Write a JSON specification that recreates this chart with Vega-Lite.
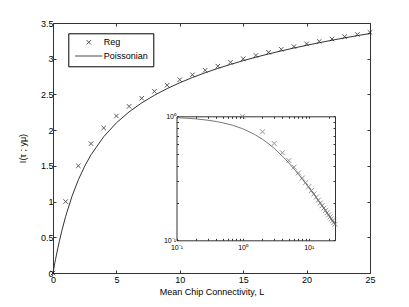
{
  "$schema": "https://vega.github.io/schema/vega-lite/v6.json",
  "width": 317,
  "height": 250,
  "autosize": {"type": "none"},
  "padding": {"left": 53, "top": 23, "right": 39, "bottom": 34},
  "background": "white",
  "config": {
    "font": "Liberation Sans",
    "view": {"stroke": null},
    "axis": {
      "grid": false,
      "labelFont": "Liberation Sans",
      "labelFontSize": 9,
      "labelColor": "#000",
      "titleFont": "Liberation Sans",
      "titleFontSize": 9,
      "titleFontWeight": "normal",
      "titleColor": "#000",
      "domainColor": "#333",
      "tickColor": "#333",
      "labelFlush": false,
      "labelOverlap": false
    }
  },
  "datasets": {
    "poi": [
      {"L": 0, "I": 0, "r": null},
      {"L": 0.1, "I": 0.09755, "r": 0.9755},
      {"L": 0.15, "I": 0.14455, "r": 0.9636},
      {"L": 0.2, "I": 0.1904, "r": 0.952},
      {"L": 0.3, "I": 0.27883, "r": 0.9294},
      {"L": 0.4, "I": 0.3631, "r": 0.9078},
      {"L": 0.5, "I": 0.44346, "r": 0.8869},
      {"L": 0.7, "I": 0.59335, "r": 0.8476},
      {"L": 1, "I": 0.79409, "r": 0.7941},
      {"L": 1.5, "I": 1.07572, "r": 0.7171},
      {"L": 2, "I": 1.30532, "r": 0.6527},
      {"L": 2.5, "I": 1.49545, "r": 0.5982},
      {"L": 3, "I": 1.65519, "r": 0.5517},
      {"L": 4, "I": 1.90867, "r": 0.4772},
      {"L": 5, "I": 2.1018, "r": 0.4204},
      {"L": 6, "I": 2.2559, "r": 0.376},
      {"L": 7, "I": 2.3819, "r": 0.3403},
      {"L": 8, "I": 2.4887, "r": 0.3111},
      {"L": 9, "I": 2.5815, "r": 0.2868},
      {"L": 10, "I": 2.6635, "r": 0.26635},
      {"L": 11, "I": 2.737, "r": 0.24882},
      {"L": 12, "I": 2.8036, "r": 0.23364},
      {"L": 13, "I": 2.8645, "r": 0.22035},
      {"L": 14, "I": 2.9207, "r": 0.20862},
      {"L": 15, "I": 2.9727, "r": 0.19818},
      {"L": 16, "I": 3.0212, "r": 0.18883},
      {"L": 17, "I": 3.0667, "r": 0.18039},
      {"L": 18, "I": 3.1094, "r": 0.17274},
      {"L": 19, "I": 3.1497, "r": 0.16578},
      {"L": 20, "I": 3.1879, "r": 0.15939},
      {"L": 21, "I": 3.2242, "r": 0.15353},
      {"L": 22, "I": 3.2587, "r": 0.14812},
      {"L": 23, "I": 3.2916, "r": 0.14311},
      {"L": 24, "I": 3.3231, "r": 0.13846},
      {"L": 25, "I": 3.3533, "r": 0.13413}
    ],
    "reg": [
      {"L": 0, "I": 0, "r": null},
      {"L": 1, "I": 1, "r": 1},
      {"L": 2, "I": 1.5, "r": 0.75},
      {"L": 3, "I": 1.8113, "r": 0.6038},
      {"L": 4, "I": 2.0306, "r": 0.5077},
      {"L": 5, "I": 2.1982, "r": 0.4396},
      {"L": 6, "I": 2.3327, "r": 0.3888},
      {"L": 7, "I": 2.4457, "r": 0.3494},
      {"L": 8, "I": 2.5432, "r": 0.3179},
      {"L": 9, "I": 2.629, "r": 0.2921},
      {"L": 10, "I": 2.7056, "r": 0.27056},
      {"L": 11, "I": 2.7747, "r": 0.25225},
      {"L": 12, "I": 2.8379, "r": 0.23649},
      {"L": 13, "I": 2.8958, "r": 0.22275},
      {"L": 14, "I": 2.9495, "r": 0.21068},
      {"L": 15, "I": 2.9995, "r": 0.19997},
      {"L": 16, "I": 3.0461, "r": 0.19038},
      {"L": 17, "I": 3.09, "r": 0.18176},
      {"L": 18, "I": 3.1313, "r": 0.17396},
      {"L": 19, "I": 3.1704, "r": 0.16686},
      {"L": 20, "I": 3.2075, "r": 0.16038},
      {"L": 21, "I": 3.2427, "r": 0.15441},
      {"L": 22, "I": 3.2763, "r": 0.14892},
      {"L": 23, "I": 3.3084, "r": 0.14384},
      {"L": 24, "I": 3.3392, "r": 0.13913},
      {"L": 25, "I": 3.3687, "r": 0.13475}
    ]
  },
  "layer": [
    {
      "layer": [
        {
          "data": {"name": "poi"},
          "mark": {"type": "line", "color": "#333", "strokeWidth": 1},
          "encoding": {
            "x": {"field": "L", "type": "quantitative", "scale": {"domain": [0, 25], "nice": false},
              "axis": {"orient": "bottom", "values": [0, 5, 10, 15, 20, 25], "labelOverlap": false, "tickSize": -3, "labelPadding": 5, "title": "Mean Chip Connectivity, L", "titlePadding": 3}},
            "y": {"field": "I", "type": "quantitative", "scale": {"domain": [0, 3.5], "nice": false},
              "axis": {"orient": "left", "values": [0, 0.5, 1, 1.5, 2, 2.5, 3, 3.5], "tickCount": 8, "labelOverlap": false, "labelExpr": "format(datum.value, '~g')", "tickSize": -3, "labelPadding": 3, "title": "I(τ ; yμ)", "titlePadding": 13}}
          }
        },
        {
          "data": {"name": "reg"},
          "mark": {"type": "point", "filled": false, "color": "#111", "strokeWidth": 1, "size": 20},
          "encoding": {
            "x": {"field": "L", "type": "quantitative", "scale": {"domain": [0, 25], "nice": false},
              "axis": {"orient": "bottom", "values": [0, 5, 10, 15, 20, 25], "labelOverlap": false, "tickSize": -3, "labelPadding": 5, "title": "Mean Chip Connectivity, L", "titlePadding": 3}},
            "y": {"field": "I", "type": "quantitative", "scale": {"domain": [0, 3.5], "nice": false},
              "axis": {"orient": "left", "values": [0, 0.5, 1, 1.5, 2, 2.5, 3, 3.5], "tickCount": 8, "labelOverlap": false, "labelExpr": "format(datum.value, '~g')", "tickSize": -3, "labelPadding": 3, "title": "I(τ ; yμ)", "titlePadding": 13}},
            "shape": {"datum": "Reg", "type": "nominal",
              "scale": {"domain": ["Reg", "Poissonian"], "range": ["M-1,-1L1,1M-1,1L1,-1", "M-6.1,0L6.1,0"]},
              "legend": {"orient": "none", "legendX": 15.3, "legendY": 10.3, "title": null, "strokeColor": "#000", "fillColor": "#fff", "padding": 4.5, "symbolStrokeColor": "#000", "symbolFillColor": "transparent", "symbolStrokeWidth": 1, "symbolSize": 20, "symbolOffset": 11.5, "labelOffset": 10.5, "labelFontSize": 9, "labelFont": "Liberation Sans", "labelColor": "#000", "rowPadding": 3.7}}
          }
        }
      ]
    },
    {
      "data": {"name": "reg"},
      "mark": {"type": "point", "opacity": 0},
      "encoding": {
        "x": {"field": "L", "type": "quantitative", "scale": {"domain": [0, 25], "nice": false},
          "axis": {"orient": "top", "values": [0, 5, 10, 15, 20, 25], "tickSize": -3, "labels": false, "title": null}},
        "y": {"field": "I", "type": "quantitative", "scale": {"domain": [0, 3.5], "nice": false},
          "axis": {"orient": "right", "values": [0, 0.5, 1, 1.5, 2, 2.5, 3, 3.5], "tickCount": 8, "tickSize": -3, "labels": false, "title": null}}
      }
    },
    {
      "layer": [
        {
          "data": {"name": "poi"},
          "mark": {"type": "line", "color": "#777", "strokeWidth": 1},
          "encoding": {
            "x": {"field": "L", "type": "quantitative", "scale": {"type": "log", "domain": [0.1, 25], "range": [123.5, 282], "nice": false},
              "axis": {"orient": "bottom", "offset": -32.7, "values": [0.1, 0.2, 0.3, 0.4, 0.5, 0.6, 0.7, 0.8, 0.9, 1, 2, 3, 4, 5, 6, 7, 8, 9, 10, 20], "labelOverlap": false, "labelExpr": "datum.value == 0.1 ? '10⁻¹' : datum.value == 1 ? '10⁰' : datum.value == 10 ? '10¹' : ''", "tickSize": -2, "labelFontSize": 7, "labelPadding": 5, "title": null}},
            "y": {"field": "r", "type": "quantitative", "scale": {"type": "log", "domain": [0.1, 1], "range": [217.3, 93.3], "nice": false},
              "axis": {"orient": "left", "offset": -123.5, "values": [0.1, 0.2, 0.3, 0.4, 0.5, 0.6, 0.7, 0.8, 0.9, 1], "labelOverlap": false, "labelExpr": "datum.value == 0.1 ? '10⁻¹' : datum.value == 1 ? '10⁰' : ''", "tickSize": -2, "labelFontSize": 7, "labelPadding": 3, "title": null}}
          }
        },
        {
          "data": {"name": "reg"},
          "mark": {"type": "point", "filled": false, "color": "#666", "strokeWidth": 1, "size": 25, "shape": "M-1,-1L1,1M-1,1L1,-1"},
          "encoding": {
            "x": {"field": "L", "type": "quantitative"},
            "y": {"field": "r", "type": "quantitative"}
          }
        }
      ]
    },
    {
      "data": {"name": "reg"},
      "mark": {"type": "point", "opacity": 0},
      "encoding": {
        "x": {"field": "L", "type": "quantitative", "scale": {"type": "log", "domain": [0.1, 25], "range": [123.5, 282], "nice": false},
          "axis": {"orient": "top", "offset": -93.3, "values": [0.1, 0.2, 0.3, 0.4, 0.5, 0.6, 0.7, 0.8, 0.9, 1, 2, 3, 4, 5, 6, 7, 8, 9, 10, 20], "tickSize": -2, "labels": false, "title": null}},
        "y": {"field": "r", "type": "quantitative", "scale": {"type": "log", "domain": [0.1, 1], "range": [217.3, 93.3], "nice": false},
          "axis": {"orient": "right", "offset": -35, "values": [0.1, 0.2, 0.3, 0.4, 0.5, 0.6, 0.7, 0.8, 0.9, 1], "tickSize": -2, "labels": false, "title": null}}
      }
    }
  ],
  "resolve": {"scale": {"x": "independent", "y": "independent", "shape": "independent"}}
}
